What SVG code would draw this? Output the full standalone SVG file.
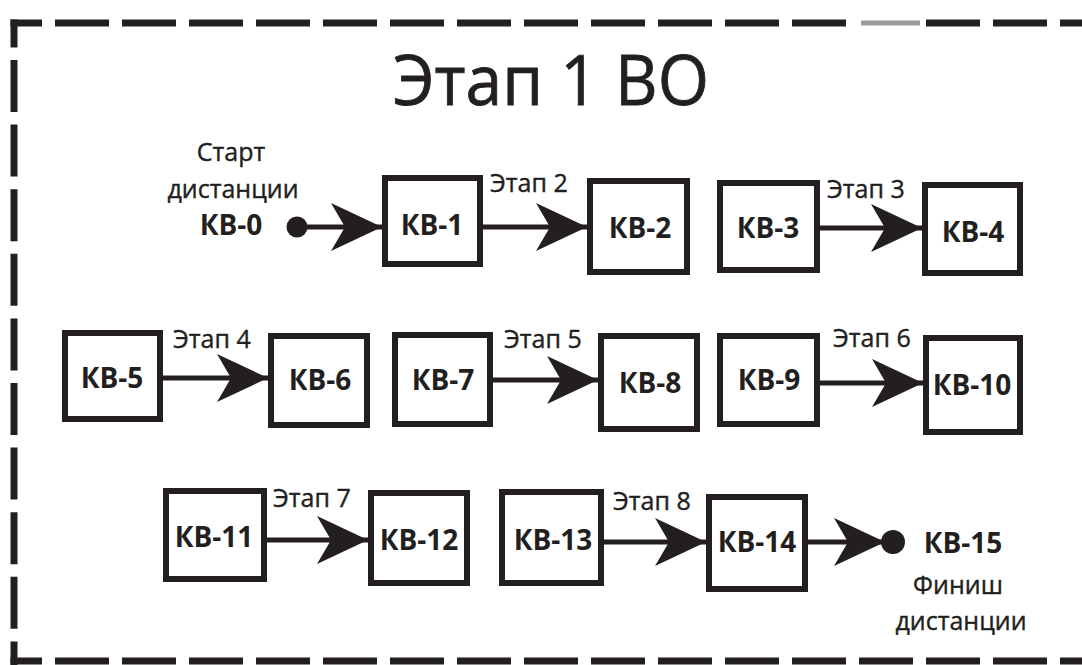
<svg xmlns="http://www.w3.org/2000/svg" width="1082" height="665" viewBox="0 0 1082 665">
  <style>
    .bd { stroke:#231f20; stroke-width:7; fill:none; }
    .box { fill:#ffffff; stroke:#231f20; stroke-width:6; }
    .lbl { font-family:"Open Sans","Noto Sans",sans-serif; font-weight:700; font-size:28px; fill:#231f20; text-anchor:middle; }
    .txt { font-family:"Open Sans","Noto Sans",sans-serif; font-weight:400; font-size:25px; fill:#231f20; text-anchor:middle; stroke:#231f20; stroke-width:0.4; }
    .stage { font-family:"Open Sans","Noto Sans",sans-serif; font-weight:400; font-size:25px; fill:#231f20; stroke:#231f20; stroke-width:0.4; }
    .title { font-family:"Open Sans","Noto Sans",sans-serif; font-weight:400; font-size:70px; fill:#231f20; stroke:#231f20; stroke-width:0.8; }
    .conn { stroke:#231f20; stroke-width:5; fill:none; marker-end:url(#arr); }
    .dot { fill:#231f20; }
  </style>
  <defs>
    <marker id="arr" markerUnits="userSpaceOnUse" viewBox="0 0 52 50" markerWidth="52" markerHeight="50" refX="51" refY="24" orient="auto">
      <path d="M0,0 L51,24 L0,48 L14,24 Z" fill="#231f20"/>
    </marker>
  </defs>
  <rect width="1082" height="665" fill="#ffffff"/>

  <g id="border">
    <line class="bd" x1="10.5" y1="23" x2="1082" y2="23" stroke-dasharray="54 13" stroke-dashoffset="22.5"/>
    <line class="bd" x1="10.5" y1="661" x2="1082" y2="661" stroke-dasharray="54 13" stroke-dashoffset="22.5"/>
    <line class="bd" x1="14" y1="19.5" x2="14" y2="665" stroke-dasharray="52 12.6" stroke-dashoffset="24.1"/>
    <rect x="857" y="18" width="60" height="10" fill="#ffffff"/>
    <line x1="861" y1="23" x2="920" y2="23" stroke="#9a9a9a" stroke-width="5"/>
  </g>

  <g id="title">
    <text class="title" x="393" y="105" textLength="316" lengthAdjust="spacingAndGlyphs">Этап 1 ВО</text>
  </g>

  <g id="connectors">
    <line class="conn" x1="297" y1="227" x2="382" y2="227"/>
    <line class="conn" x1="483" y1="227" x2="587" y2="227"/>
    <line class="conn" x1="820" y1="228" x2="922" y2="228"/>
    <line class="conn" x1="163" y1="378" x2="268" y2="378"/>
    <line class="conn" x1="493" y1="380" x2="598" y2="380"/>
    <line class="conn" x1="820" y1="383" x2="923" y2="383"/>
    <line class="conn" x1="267" y1="540" x2="368" y2="540"/>
    <line class="conn" x1="604" y1="542" x2="706" y2="542"/>
    <line class="conn" x1="808" y1="542" x2="885" y2="542"/>
    <text class="stage" x="490" y="192">Этап 2</text>
    <text class="stage" x="827" y="198">Этап 3</text>
    <text class="stage" x="173" y="348">Этап 4</text>
    <text class="stage" x="504" y="348">Этап 5</text>
    <text class="stage" x="833" y="347">Этап 6</text>
    <text class="stage" x="273" y="507">Этап 7</text>
    <text class="stage" x="613" y="510">Этап 8</text>
  </g>

  <g id="kv0">
    <circle class="dot" cx="297" cy="227" r="10.5"/>
    <text class="txt" x="231" y="161">Старт</text>
    <text class="txt" x="233" y="198">дистанции</text>
    <text class="lbl" x="231" y="235">КВ-0</text>
  </g>
  <g id="kv1"><rect class="box" x="385" y="178" width="95" height="86"/><text class="lbl" x="432" y="235">КВ-1</text></g>
  <g id="kv2"><rect class="box" x="590" y="181" width="97" height="91"/><text class="lbl" x="640" y="238">КВ-2</text></g>
  <g id="kv3"><rect class="box" x="720" y="183" width="97" height="87"/><text class="lbl" x="768" y="238">КВ-3</text></g>
  <g id="kv4"><rect class="box" x="925" y="185" width="95" height="88"/><text class="lbl" x="973" y="242">КВ-4</text></g>

  <g id="kv5"><rect class="box" x="65" y="333" width="95" height="86"/><text class="lbl" x="112" y="388">КВ-5</text></g>
  <g id="kv6"><rect class="box" x="271" y="336" width="96" height="89"/><text class="lbl" x="320" y="390">КВ-6</text></g>
  <g id="kv7"><rect class="box" x="395" y="335" width="95" height="89"/><text class="lbl" x="443" y="390">КВ-7</text></g>
  <g id="kv8"><rect class="box" x="601" y="336" width="96" height="93"/><text class="lbl" x="650" y="393">КВ-8</text></g>
  <g id="kv9"><rect class="box" x="720" y="336" width="97" height="88"/><text class="lbl" x="769" y="390">КВ-9</text></g>
  <g id="kv10"><rect class="box" x="926" y="338" width="94" height="94"/><text class="lbl" x="972" y="395">КВ-10</text></g>

  <g id="kv11"><rect class="box" x="166" y="491" width="98" height="88"/><text class="lbl" x="214" y="547">КВ-11</text></g>
  <g id="kv12"><rect class="box" x="371" y="493" width="96" height="90"/><text class="lbl" x="419" y="550">КВ-12</text></g>
  <g id="kv13"><rect class="box" x="502" y="492" width="99" height="91"/><text class="lbl" x="553" y="550">КВ-13</text></g>
  <g id="kv14"><rect class="box" x="709" y="497" width="96" height="92"/><text class="lbl" x="757" y="552">КВ-14</text></g>
  <g id="kv15">
    <circle class="dot" cx="893" cy="542" r="12"/>
    <text class="lbl" x="963" y="553">КВ-15</text>
    <text class="txt" x="958" y="594">Финиш</text>
    <text class="txt" x="961" y="630">дистанции</text>
  </g>
</svg>
